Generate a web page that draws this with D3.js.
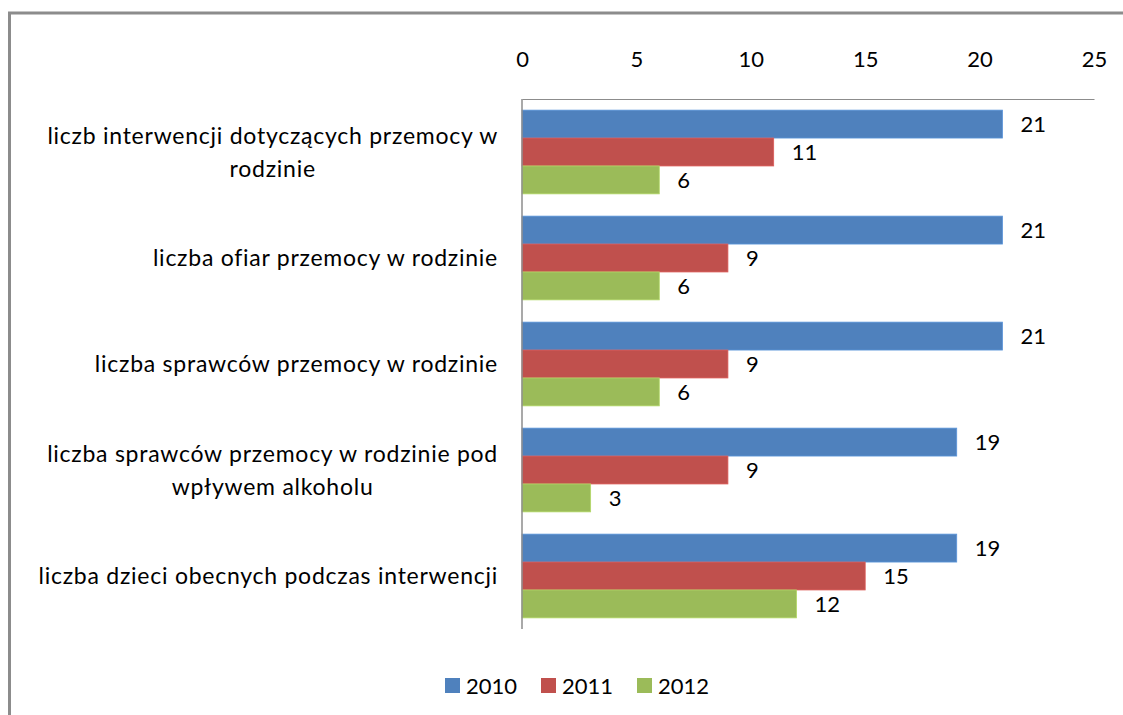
<!DOCTYPE html>
<html>
<head>
<meta charset="utf-8">
<script src="https://cdn.jsdelivr.net/npm/d3@7"></script>
<style>
  body { margin: 0; background: #fff; }
  svg text { font-family: Lato, "Open Sans", sans-serif; fill: #000; }
</style>
</head>
<body>
<div id="chart"></div>
<script>
// data
var categories = [
    ["liczb interwencji dotyczących przemocy w", "rodzinie"],
    ["liczba ofiar przemocy w rodzinie"],
    ["liczba sprawców przemocy w rodzinie"],
    ["liczba sprawców przemocy w rodzinie pod", "wpływem alkoholu"],
    ["liczba dzieci obecnych podczas interwencji"]
];
var years = ["2010", "2011", "2012"];
var values2010 = [21, 21, 21, 19, 19];
var values2011 = [11, 9, 9, 9, 15];
var values2012 = [6, 6, 6, 3, 12];
var tickValues = [0, 5, 10, 15, 20, 25];
var colors = ["#4F81BD", "#C0504D", "#9BBB59"];

var series = [values2010, values2011, values2012];

var W = 1123, H = 715;
var plotLeft = 522, plotRight = 1094, plotTop = 99, plotBottom = 629;
var FONT = 22;
var LABEL_FONT = 23;

var svg = d3.select("#chart").append("svg")
    .attr("width", W)
    .attr("height", H);

// outer border
svg.append("rect")
    .attr("x", 9.5).attr("y", 13)
    .attr("width", 1130).attr("height", 720)
    .attr("fill", "white")
    .attr("stroke", "#8c8c8c")
    .attr("stroke-width", 3);

var x = d3.scaleLinear().domain([0, 25]).range([plotLeft, plotRight]);
var y = d3.scaleBand().domain(d3.range(categories.length)).range([plotTop, plotBottom])
    .paddingInner(0.21).paddingOuter(0.105);
var ySub = d3.scaleBand().domain(d3.range(years.length)).range([0, y.bandwidth()]);

// bars
categories.forEach(function(c, i) {
    var g = svg.append("g").attr("transform", "translate(0," + y(i) + ")");
    series.forEach(function(vals, s) {
        g.append("rect")
            .attr("x", x(0))
            .attr("y", ySub(s))
            .attr("width", x(vals[i]) - x(0))
            .attr("height", ySub.bandwidth())
            .attr("fill", colors[s])
            .attr("stroke", d3.color(colors[s]).brighter(0.4))
            .attr("stroke-width", 0.8);
        g.append("text")
            .attr("x", x(vals[i]) + 18)
            .attr("y", ySub(s) + ySub.bandwidth() / 2)
            .attr("dy", "0.35em")
            .attr("font-size", FONT)
            .text(vals[i]);
    });
});

// axes
var xAxis = d3.axisTop(x).tickValues(tickValues).tickSize(0).tickPadding(32);
var ax = svg.append("g").attr("transform", "translate(0," + plotTop + ")").call(xAxis);
ax.select(".domain").attr("stroke", "#8c8c8c").attr("stroke-width", 1.2);
ax.selectAll("text").attr("font-size", FONT).attr("font-family", "Lato, Open Sans, sans-serif").attr("fill", "#000");

svg.append("line")
    .attr("x1", plotLeft).attr("x2", plotLeft)
    .attr("y1", plotTop).attr("y2", plotBottom)
    .attr("stroke", "#8c8c8c").attr("stroke-width", 1.5);

// category labels
categories.forEach(function(lines, i) {
    var cy = y(i) + y.bandwidth() / 2;
    var t = svg.append("text")
        .attr("font-size", LABEL_FONT)
        .attr("letter-spacing", 0.75);
    if (lines.length == 1) {
        t.attr("x", 498).attr("y", cy)
            .attr("dy", "0.35em")
            .attr("text-anchor", "end")
            .text(lines[0]);
    } else {
        // multi-line labels: centred block, right edge at the axis
        t.attr("text-anchor", "middle");
        var tmp = t.append("tspan").text(lines[0]);
        var w = tmp.node().getComputedTextLength();
        tmp.remove();
        var cx = 498 - w / 2;
        lines.forEach(function(l, k) {
            t.append("tspan")
                .attr("x", cx)
                .attr("y", cy + (k - (lines.length - 1) / 2) * 33)
                .attr("dy", "0.35em")
                .text(l);
        });
    }
});

// legend
var legendX = [445, 541, 637];
years.forEach(function(yr, s) {
    svg.append("rect")
        .attr("x", legendX[s]).attr("y", 678)
        .attr("width", 15).attr("height", 15)
        .attr("fill", colors[s]);
    svg.append("text")
        .attr("x", legendX[s] + 21).attr("y", 686)
        .attr("dy", "0.35em")
        .attr("font-size", FONT)
        .text(yr);
});
</script>
</body>
</html>
